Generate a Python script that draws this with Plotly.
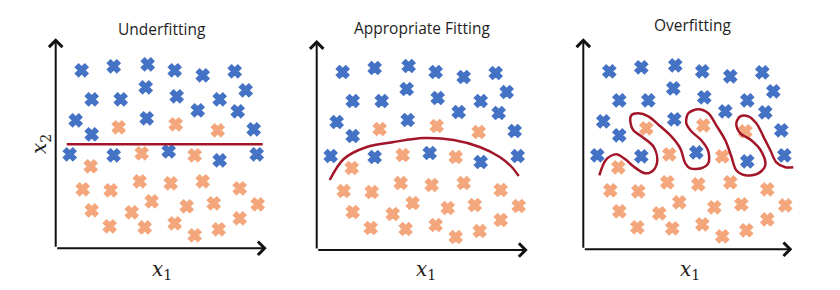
import plotly.graph_objects as go

# ---- data (shared scatter of two classes) ----
blue_x = [2.6, 5.8, 9.2, 11.9, 14.7, 17.9, 19.0, 3.6, 6.5, 9.0, 12.1, 16.4, 14.2, 18.2,
          2.0, 9.1, 19.8, 3.6, 1.4, 5.8, 11.3, 16.4, 20.1]
blue_y = [17.8, 18.2, 18.4, 17.8, 17.3, 17.7, 15.8, 14.9, 14.9, 16.1, 15.2, 14.9, 13.8, 13.7,
          12.8, 13.0, 11.9, 11.4, 9.4, 9.3, 9.7, 8.8, 9.4]
orange_x = [6.3, 12.0, 16.2, 3.5, 8.6, 13.9, 2.7, 5.5, 8.4, 11.5, 14.7, 18.4,
            3.6, 7.6, 9.6, 13.1, 15.8, 20.2, 5.4, 8.9, 11.9, 13.9, 16.3, 18.4]
orange_y = [12.1, 12.4, 11.8, 8.2, 9.5, 9.3, 5.9, 5.8, 6.7, 6.5, 6.7, 6.0,
            3.8, 3.6, 4.7, 4.2, 4.5, 4.4, 2.2, 2.1, 2.5, 1.3, 1.9, 3.0]

# decision boundaries
under_x = [1.1, 20.7]
under_y = [10.4, 10.4]

fit_x = [1.3, 2.7, 5.0, 7.7, 10.7, 13.7, 16.3, 18.3, 19.5, 20.2]
fit_y = [7.0, 9.1, 10.3, 10.8, 11.2, 11.0, 10.3, 9.3, 8.3, 7.4]

over_x = [1.6, 2.3, 3.3, 4.2, 5.0, 6.2, 7.0, 7.4, 7.0, 5.8, 5.0, 4.7, 4.8, 5.5, 6.5, 7.7, 8.8,
          9.7, 10.2, 10.7, 11.8, 12.5, 12.5, 11.8, 10.8, 10.3, 10.5, 11.5, 12.5, 13.3, 14.2,
          14.8, 15.3, 16.2, 17.5, 18.2, 17.8, 16.8, 15.7, 15.3, 15.7, 16.5, 17.3, 18.0, 18.7,
          19.3, 20.2, 21.0]
over_y = [7.4, 9.0, 9.5, 9.0, 8.3, 7.6, 7.9, 8.9, 10.3, 11.3, 11.9, 12.8, 13.4, 13.6, 13.3, 12.3, 11.3,
          10.1, 8.6, 8.1, 8.1, 8.6, 9.8, 10.9, 11.8, 12.6, 13.6, 14.0, 13.6, 12.4, 10.9,
          9.3, 7.9, 7.4, 7.6, 8.4, 9.8, 10.9, 11.6, 12.6, 13.3, 13.3, 12.6, 11.3, 9.9,
          8.7, 8.2, 8.2]

titles = ["Underfitting", "Appropriate Fitting", "Overfitting"]
boundaries = [(under_x, under_y), (fit_x, fit_y), (over_x, over_y)]

# ---- layout geometry (pixels of the 840x290 canvas) ----
W, H = 840, 290
origins = [(55.7, 248.3), (316.7, 250.0), (583.3, 249.3)]
PX_PER_UNIT = 10.0
RNG = (-2.5, 23.5)
axis_len_x = [21.1, 21.1, 20.9]
axis_len_y = [21.0, 21.0, 21.1]
title_pos = [(10.6, 21.9), (10.5, 22.2), (10.9, 22.4)]
xlab_pos = [(10.6, -2.2), (10.9, -2.0), (10.7, -2.1)]

BLUE = "#4472C4"
ORANGE = "#F4A77C"
RED = "#A3162A"

fig = go.Figure()
annotations = []
for i in range(3):
    ox, oy = origins[i]
    x0 = (ox + RNG[0] * PX_PER_UNIT) / W
    x1 = (ox + RNG[1] * PX_PER_UNIT) / W
    y0 = (H - (oy - RNG[0] * PX_PER_UNIT)) / H
    y1 = (H - (oy - RNG[1] * PX_PER_UNIT)) / H
    sfx = "" if i == 0 else str(i + 1)
    xa, ya = "x" + sfx, "y" + sfx
    fig.update_layout(**{
        "xaxis" + sfx: dict(domain=[x0, x1], range=list(RNG), visible=False, anchor=ya),
        "yaxis" + sfx: dict(domain=[y0, y1], range=list(RNG), visible=False, anchor=xa),
    })
    for xs, ys, col in [(blue_x, blue_y, BLUE), (orange_x, orange_y, ORANGE)]:
        fig.add_trace(go.Scatter(x=xs, y=ys, mode="markers", xaxis=xa, yaxis=ya,
                                 marker=dict(symbol="x", size=11, color=col,
                                             line=dict(width=1.6, color=col)),
                                 showlegend=False, hoverinfo="skip"))
    bx, by = boundaries[i]
    fig.add_trace(go.Scatter(x=bx, y=by, mode="lines", xaxis=xa, yaxis=ya,
                             line=dict(color=RED, width=2.5, shape="spline" if i else "linear",
                                       smoothing=0.9),
                             showlegend=False, hoverinfo="skip"))
    # axis arrows
    for (tx, ty) in [(axis_len_x[i], 0), (0, axis_len_y[i])]:
        annotations.append(dict(x=tx, y=ty, ax=0, ay=0, xref=xa, yref=ya, axref=xa, ayref=ya,
                                text="", showarrow=True, arrowhead=4, arrowsize=1.3,
                                arrowwidth=2, arrowcolor="#111111", standoff=0, startstandoff=0))
    # title
    annotations.append(dict(x=title_pos[i][0], y=title_pos[i][1], xref=xa, yref=ya,
                            text=titles[i], showarrow=False, yanchor="middle",
                            font=dict(family="Open Sans", size=15.5, color="#1e1e1e")))
    # x1 label
    annotations.append(dict(x=xlab_pos[i][0], y=xlab_pos[i][1], xref=xa, yref=ya,
                            text="<i>x</i><sub>1</sub>", showarrow=False, yanchor="middle",
                            font=dict(family="DejaVu Serif", size=20, color="#1e1e1e")))

# x2 label on first panel
annotations.append(dict(x=-1.5, y=10.4, xref="x", yref="y", text="<i>x</i><sub>2</sub>",
                        showarrow=False, textangle=-90, xanchor="center", yanchor="middle",
                        font=dict(family="DejaVu Serif", size=20, color="#1e1e1e")))

fig.update_layout(width=W, height=H, margin=dict(l=0, r=0, t=0, b=0),
                  paper_bgcolor="white", plot_bgcolor="white", annotations=annotations)

fig.write_html("out.html")
